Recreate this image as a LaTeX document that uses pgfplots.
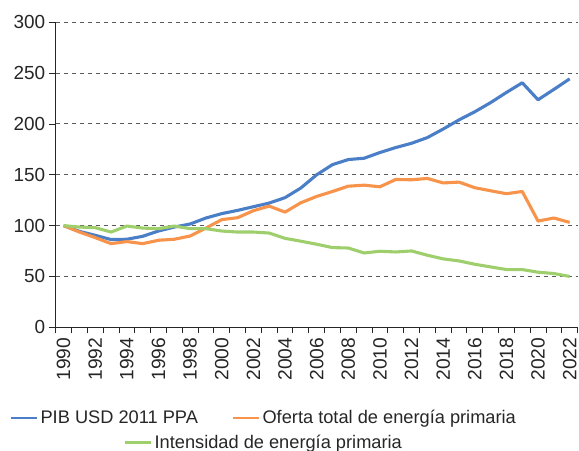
\documentclass[border=0pt]{standalone}
\usepackage{fontspec}
\setmainfont{Liberation Sans}
\usepackage{pgfplots}
\usepackage{pgfplotstable}
\pgfplotsset{compat=1.18}
\definecolor{cblue}{HTML}{4A7EC6}
\definecolor{corange}{HTML}{F7934A}
\definecolor{cgreen}{HTML}{9FCF6C}
\definecolor{ctext}{HTML}{262626}
\definecolor{cgrid}{HTML}{5A5A5A}
\pgfplotstableread{
year pib oferta intensidad
1990 100 100 100
1991 94.4 93.7 98.6
1992 90.5 88.2 98.0
1993 86.3 82.3 93.7
1994 86.6 84.3 99.6
1995 89.5 82.3 97.6
1996 94.7 85.6 97.0
1997 98.6 86.6 99.6
1998 101.6 89.8 97.0
1999 107.5 97.6 97.0
2000 111.8 105.9 94.7
2001 115.0 107.8 93.7
2002 118.6 114.7 93.7
2003 122.2 119.2 92.7
2004 127.5 113.3 87.5
2005 137.0 122.5 84.7
2006 150.0 128.7 81.7
2007 160.0 133.6 78.4
2008 165.0 138.8 78.0
2009 166.3 139.8 73.1
2010 171.9 138.2 74.8
2011 176.8 145.4 74.1
2012 181.0 145.1 75.1
2013 186.6 146.4 70.9
2014 195.0 142.0 67.3
2015 204.0 142.8 65.3
2016 212.0 137.3 62.0
2017 221.0 134.3 59.4
2018 231.0 131.4 56.8
2019 240.5 133.6 56.8
2020 223.8 104.5 54.2
2021 234.0 107.5 52.9
2022 244.4 103.2 50.0
}\datatable
\begin{document}
\begin{tikzpicture}
\path[use as bounding box] (-55.7bp,-123.7bp) rectangle (523.3bp,327.3bp);
\begin{axis}[
  name=main,
  scale only axis,
  width=521.9bp, height=305bp,
  xmin=1989.5, xmax=2022.5,
  ymin=0, ymax=300,
  axis x line*=bottom, axis y line*=left,
  axis line style={ctext, line width=0.9bp},
  xtick={1990,1992,...,2022},
  minor xtick={1989.5,1990.5,...,2022.5},
  ytick={0,50,...,300},
  tick align=outside,
  major x tick style={draw=none},
  minor x tick style={ctext, line width=0.9bp},
  minor tick length=6bp,
  major y tick style={ctext, line width=0.9bp},
  major tick length=7bp,
  ymajorgrids,
  major grid style={cgrid, line width=1bp, dash pattern=on 4.7bp off 3.3bp},
  x tick label style={rotate=90, anchor=east, font=\fontsize{19.3}{22}\selectfont, text=ctext},
  y tick label style={font=\fontsize{19}{22}\selectfont, text=ctext},
  xticklabel={\pgfmathprintnumber[1000 sep={}]{\tick}},
  /pgf/number format/assume math mode=true,
  /pgf/number format/1000 sep={},
  legend columns=2,
  legend style={draw=none, fill=none, at={(0.399,-0.297)}, anchor=center,
    font=\fontsize{18.3}{21}\selectfont, text=ctext,
    /tikz/every even column/.append style={column sep=32bp}},
  legend image code/.code={\draw[#1, line width=2.6bp] (0bp,0bp) -- (26bp,0bp);},
  every axis plot/.append style={line width=3.1bp, line join=round, mark=none},
]
\addplot[cblue] table[x=year, y=pib] {\datatable};
\addlegendentry{PIB USD 2011 PPA}
\addplot[corange] table[x=year, y=oferta] {\datatable};
\addlegendentry{Oferta total de energía primaria}
\addplot[cgreen, forget plot] table[x=year, y=intensidad] {\datatable};
\end{axis}
\begin{axis}[
  scale only axis,
  width=521.9bp, height=305bp,
  xmin=0, xmax=1, ymin=0, ymax=1,
  hide axis,
  legend style={draw=none, fill=none, at={(0.399,-0.378)}, anchor=center,
    font=\fontsize{18.3}{21}\selectfont, text=ctext},
  legend image code/.code={\draw[#1, line width=2.6bp] (0bp,0bp) -- (26bp,0bp);},
]
\addlegendimage{cgreen}
\addlegendentry{Intensidad de energía primaria}
\end{axis}
\end{tikzpicture}
\end{document}
